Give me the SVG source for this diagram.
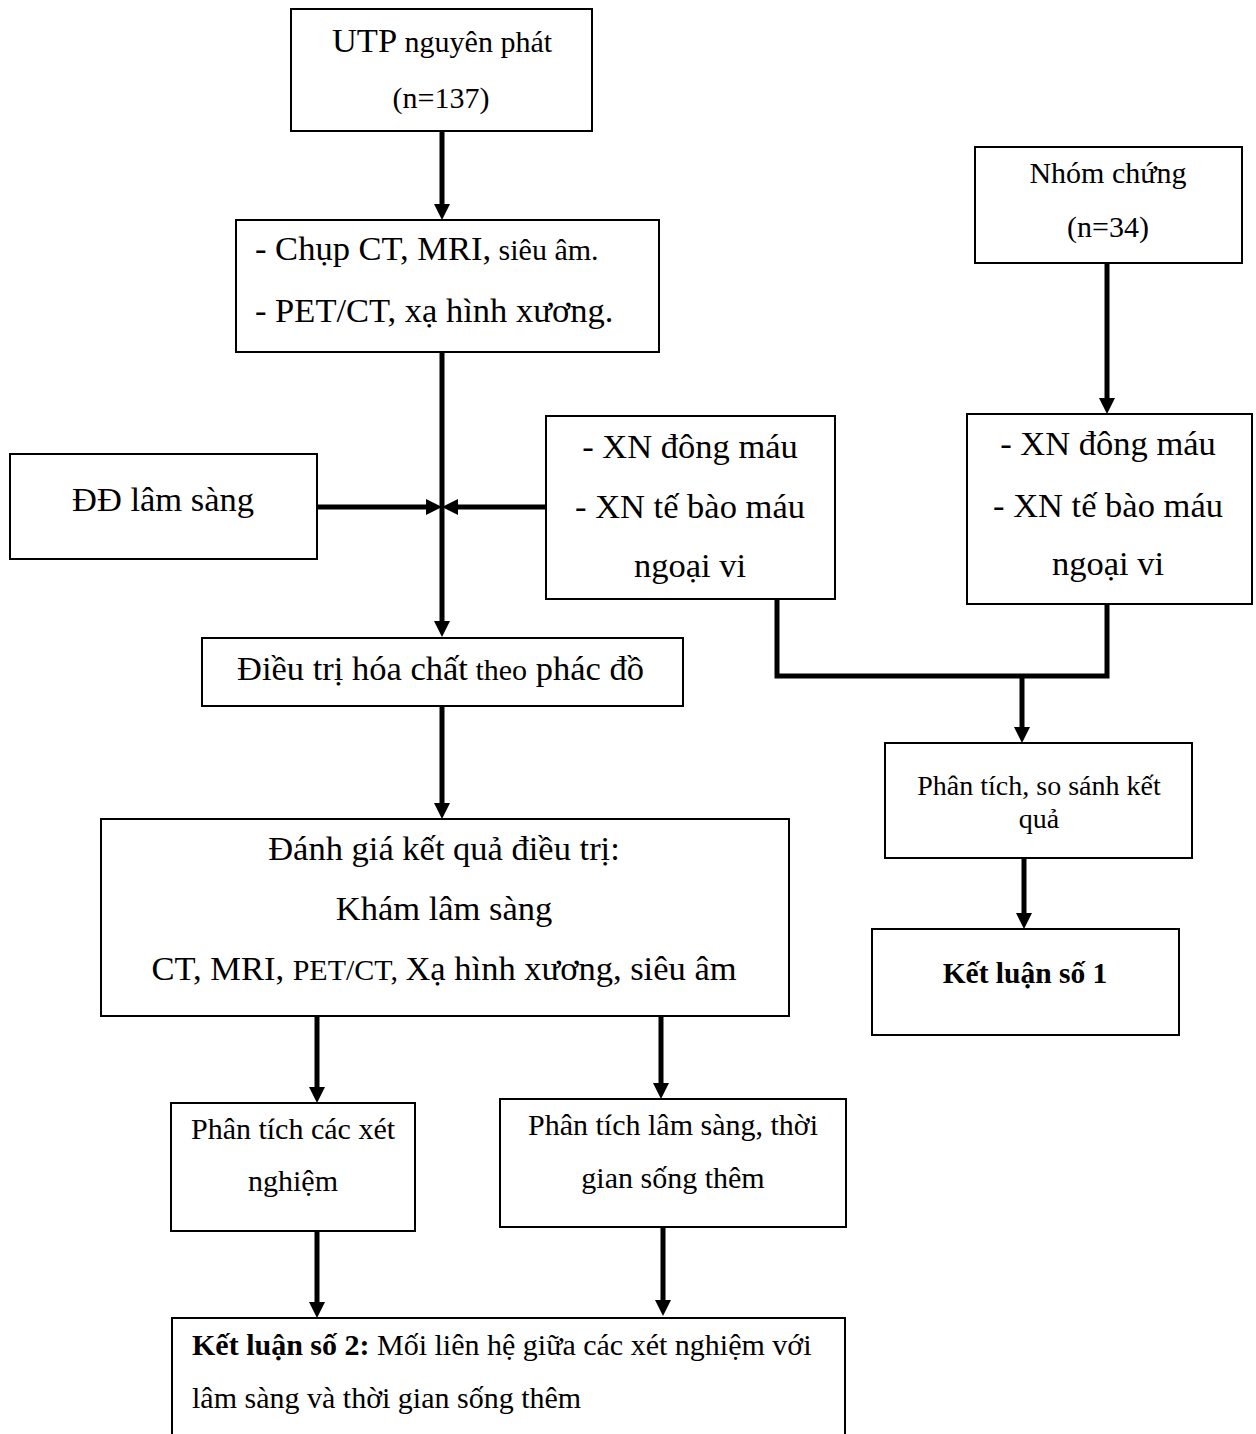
<svg xmlns="http://www.w3.org/2000/svg" width="1256" height="1434" viewBox="0 0 1256 1434">
<style>
.box{fill:#fff;stroke:#000;stroke-width:2}
text{font-family:"Liberation Serif","Times New Roman",serif;fill:#000}
.L{font-size:34.5px}
.S{font-size:30px}
.c{text-anchor:middle}
.b{font-weight:bold}
.con{fill:none;stroke:#000;stroke-width:5}
</style>
<defs>
<marker id="ah" viewBox="0 0 16 16" refX="6" refY="8" markerWidth="16" markerHeight="16" markerUnits="userSpaceOnUse" orient="auto">
<path d="M0,0 L16,8 L0,16 z" fill="#000"/>
</marker>
</defs>
<rect width="1256" height="1434" fill="#fff"/>
<g id="connectors">
<line class="con" x1="442" y1="131" x2="442" y2="210" marker-end="url(#ah)"/>
<line class="con" x1="442" y1="352" x2="442" y2="627" marker-end="url(#ah)"/>
<line class="con" x1="318" y1="507" x2="432" y2="507" marker-end="url(#ah)"/>
<line class="con" x1="546" y1="507" x2="452" y2="507" marker-end="url(#ah)"/>
<line class="con" x1="442" y1="706" x2="442" y2="809" marker-end="url(#ah)"/>
<line class="con" x1="1107" y1="263" x2="1107" y2="404" marker-end="url(#ah)"/>
<polyline class="con" points="777,599 777,676 1107,676 1107,604"/>
<line class="con" x1="1022" y1="676" x2="1022" y2="733" marker-end="url(#ah)"/>
<line class="con" x1="1024" y1="858" x2="1024" y2="919" marker-end="url(#ah)"/>
<line class="con" x1="317" y1="1016" x2="317" y2="1093" marker-end="url(#ah)"/>
<line class="con" x1="661" y1="1016" x2="661" y2="1089" marker-end="url(#ah)"/>
<line class="con" x1="317" y1="1231" x2="317" y2="1308" marker-end="url(#ah)"/>
<line class="con" x1="663" y1="1227" x2="663" y2="1306" marker-end="url(#ah)"/>
</g>
<g id="utp">
<rect class="box" x="291" y="9" width="301" height="122"/>
<text class="c" x="442" y="52"><tspan class="L">UTP</tspan><tspan class="S"> nguyên phát</tspan></text>
<text class="S c" x="441" y="108">(n=137)</text>
</g>
<g id="imaging">
<rect class="box" x="236" y="220" width="423" height="132"/>
<text x="255" y="260"><tspan class="L">- Chụp CT, MRI,</tspan><tspan class="S"> siêu âm.</tspan></text>
<text class="L" x="255" y="322">- PET/CT, xạ hình xương.</text>
</g>
<g id="dd">
<rect class="box" x="10" y="454" width="307" height="105"/>
<text class="L c" x="163" y="511">ĐĐ lâm sàng</text>
</g>
<g id="xn1">
<rect class="box" x="546" y="416" width="289" height="183"/>
<text class="L c" x="690" y="458">- XN đông máu</text>
<text class="L c" x="690" y="518">- XN tế bào máu</text>
<text class="L c" x="690" y="577">ngoại vi</text>
</g>
<g id="control">
<rect class="box" x="975" y="147" width="267" height="116"/>
<text class="S c" x="1108" y="183">Nhóm chứng</text>
<text class="S c" x="1108" y="237">(n=34)</text>
</g>
<g id="xn2">
<rect class="box" x="967" y="414" width="285" height="190"/>
<text class="L c" x="1108" y="455">- XN đông máu</text>
<text class="L c" x="1108" y="517">- XN tế bào máu</text>
<text class="L c" x="1108" y="575">ngoại vi</text>
</g>
<g id="treat">
<rect class="box" x="202" y="638" width="481" height="68"/>
<text x="237" y="680"><tspan class="L">Điều trị hóa chất</tspan><tspan class="S"> theo</tspan><tspan class="L"> phác đồ</tspan></text>
</g>
<g id="compare">
<rect class="box" x="885" y="743" width="307" height="115"/>
<text class="c" x="1039" y="795" style="font-size:28px">Phân tích, so sánh kết</text>
<text class="c" x="1039" y="828" style="font-size:28px">quả</text>
</g>
<g id="kl1">
<rect class="box" x="872" y="929" width="307" height="106"/>
<text class="b c" x="1025" y="983" style="font-size:29.5px">Kết luận số 1</text>
</g>
<g id="eval">
<rect class="box" x="101" y="819" width="688" height="197"/>
<text class="L c" x="444" y="860">Đánh giá kết quả điều trị:</text>
<text class="L c" x="444" y="920">Khám lâm sàng</text>
<text class="c" x="444" y="980"><tspan class="L">CT, MRI, </tspan><tspan class="S">PET/CT, </tspan><tspan class="L">Xạ hình xương, siêu âm</tspan></text>
</g>
<g id="pt-xn">
<rect class="box" x="171" y="1103" width="244" height="128"/>
<text class="S c" x="293" y="1139">Phân tích các xét</text>
<text class="S c" x="293" y="1191">nghiệm</text>
</g>
<g id="pt-ls">
<rect class="box" x="500" y="1099" width="346" height="128"/>
<text class="S c" x="673" y="1135">Phân tích lâm sàng, thời</text>
<text class="S c" x="673" y="1188">gian sống thêm</text>
</g>
<g id="kl2">
<rect class="box" x="172" y="1318" width="673" height="130"/>
<text class="S" x="192" y="1355"><tspan class="b">Kết luận số 2:</tspan><tspan> Mối liên hệ giữa các xét nghiệm với</tspan></text>
<text class="S" x="192" y="1408">lâm sàng và thời gian sống thêm</text>
</g>
</svg>
